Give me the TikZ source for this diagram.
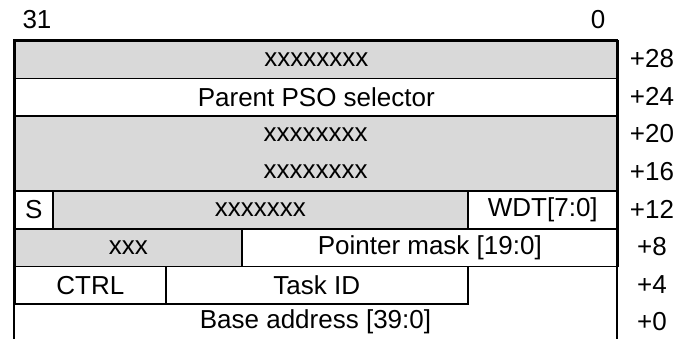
\documentclass[tikz,border=0pt]{standalone}
\usepackage{fontspec}
\setmainfont{Liberation Sans}
\begin{document}
\begin{tikzpicture}[x=1pt,y=-1pt,
  txt/.style={inner sep=0pt, font=\fontsize{26}{30}\selectfont},
  field/.style={txt, draw=black, line width=1.6pt, anchor=north west, minimum height=37.6pt},
  grey/.style={fill=black!15},
  frame/.style={draw=black, line width=2pt},
]
\useasboundingbox (0,0) rectangle (678,338);

% bit numbers
\node[txt] (b31) at (37,20) {31};
\node[txt] (b0)  at (598,20) {0};

% fields, one row per 32-bit word
\node[field, grey, minimum width=603pt] (f28) at (14,40) {xxxxxxxx};
\node[field, minimum width=603pt] (f24) at (14,77.6) {Parent PSO selector};
\node[field, grey, minimum width=603pt, minimum height=75.2pt] (f16) at (14,115.2) {};
\node[txt] (f20a) at (315.5,134.2) {xxxxxxxx};
\node[txt] (f16a) at (315.5,171.8) {xxxxxxxx};
\node[field, minimum width=38pt] (fs) at (14,190.4) {S};
\node[field, grey, minimum width=415pt] (f12) at (52,190.4) {xxxxxxx};
\node[field, minimum width=150pt] (wdt) at (467,190.4) {WDT[7:0]};
\node[field, grey, minimum width=227pt] (f8) at (14,228) {xxx};
\node[field, minimum width=376pt] (ptr) at (241,228) {Pointer mask [19:0]};
\node[field, minimum width=151pt] (ctrl) at (14,265.6) {CTRL};
\node[field, minimum width=302pt] (task) at (165,265.6) {Task ID};
\node[txt] (base) at (315.5,321.5) {Base address [39:0]};

% outer frame, open at the bottom
\coordinate (bl) at (14,340);
\coordinate (br) at (617,340);
\draw[frame] (bl) -- (14,40) -- (617,40) -- (br);

% byte offsets
\foreach \o/\y in {28/58.8,24/96.4,20/134,16/171.6,12/209.2,8/246.8,4/284.4,0/322}
  \node[txt] (off\o) at (652,\y) {+\o};
\end{tikzpicture}
\end{document}
